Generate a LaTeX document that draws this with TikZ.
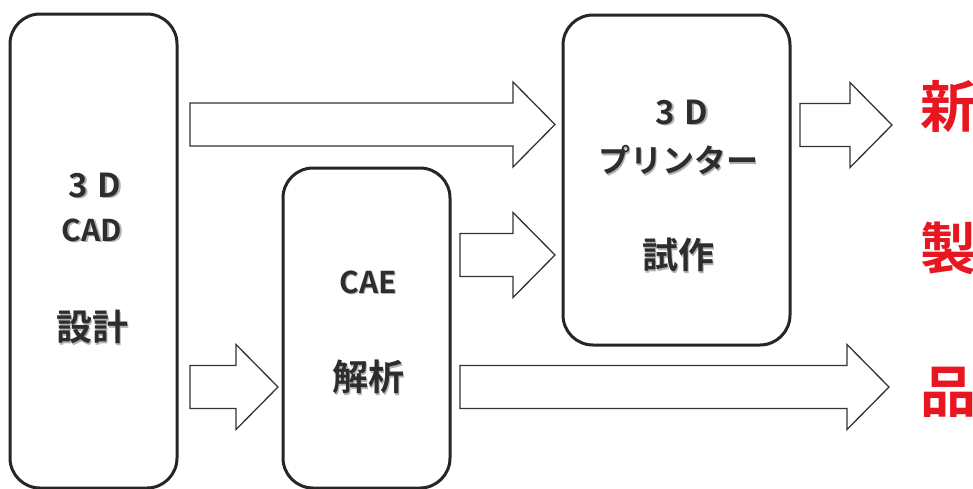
\documentclass[tikz,border=0pt]{standalone}
\usepackage{fontspec}
\newfontfamily\jp{Noto Sans CJK JP}[BoldFont={Noto Sans CJK JP Bold}]
\definecolor{txt}{RGB}{45,45,45}
\definecolor{redtxt}{RGB}{232,22,32}
\begin{document}
\begin{tikzpicture}[x=1pt,y=-1pt,
  box/.style={draw=black!85, line width=3pt, rounded corners=30pt, fill=white, inner sep=0pt},
  fat/.style={draw=black!80, line width=1.3pt, fill=white, line join=miter},
  lbl/.style={font=\jp\bfseries, text=txt, inner sep=0pt},
  shd/.style={font=\jp\bfseries, text=black!30, inner sep=0pt},
  red/.style={font=\jp\bfseries\fontsize{56}{56}\selectfont, text=redtxt, inner sep=0pt}]
\useasboundingbox (0,0) rectangle (973,488);
% boxes
\node[box, minimum width=167pt, minimum height=474pt] (cad) at (93.5,251) {};
\node[box, minimum width=167pt, minimum height=320pt] (cae) at (366.5,328) {};
\node[box, minimum width=227pt, minimum height=330pt] (pr) at (676.5,180) {};
% fat arrows: \fatarrow{x0}{x1}{yc}
\newcommand\fatarrow[3]{%
  \draw[fat] (#1,#3-21.5) -- (#2-42,#3-21.5) -- (#2-42,#3-42.5) -- (#2,#3)
    -- (#2-42,#3+42.5) -- (#2-42,#3+21.5) -- (#1,#3+21.5) -- cycle;}
\fatarrow{190}{555}{124.5}
\fatarrow{190}{278}{387}
\fatarrow{460}{555}{255}
\fatarrow{800}{892}{125}
\fatarrow{460}{889}{387}
% labels with soft shadow: \lab{x}{y}{size}{text}
\newcommand\lab[4]{%
  \node[shd] at (#1+1.6,#2+1.8) {\fontsize{#3}{#3}\selectfont #4};
  \node[lbl] at (#1,#2) {\fontsize{#3}{#3}\selectfont #4};}
\lab{95}{185}{33}{3\hspace{10pt}D}
\lab{92}{230}{30}{CAD}
\lab{92}{327}{36}{設計}
\lab{368}{282}{30}{CAE}
\lab{368}{377}{36}{解析}
\lab{682}{112}{33}{3\hspace{10pt}D}
\lab{678}{160}{32}{プリンター}
\lab{678}{255}{36}{試作}
\node[red, anchor=west] (n1) at (920,107) {新};
\node[red, anchor=west] (n2) at (920,248) {製};
\node[red, anchor=west] (n3) at (920,392) {品};
\end{tikzpicture}
\end{document}
